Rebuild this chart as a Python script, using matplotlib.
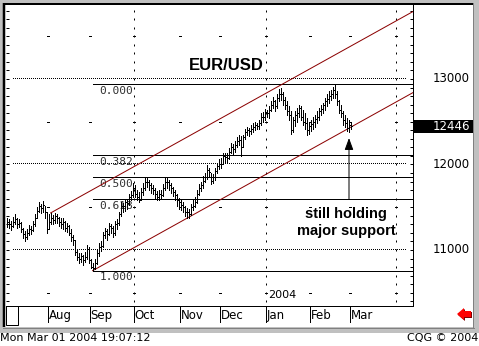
import numpy as np
import pandas as pd
import matplotlib.pyplot as plt
from matplotlib.patches import Rectangle, Polygon
from matplotlib.transforms import blended_transform_factory
from matplotlib.ticker import MultipleLocator

W, H = 479, 346
PX = 0.72  # one pixel in points at 100 dpi

########################### Daily bars (high, low, close) x 10000 ##############################
jul_2003 = [(11370, 11270, 11330), (11360, 11260, 11300), (11340, 11230, 11280), (11390, 11270, 11330),
            (11420, 11300, 11360), (11380, 11260, 11300), (11360, 11270, 11320), (11330, 11210, 11250),
            (11260, 11140, 11190), (11220, 11110, 11150), (11250, 11130, 11200), (11290, 11180, 11240),
            (11280, 11190, 11230), (11340, 11220, 11300), (11420, 11280, 11380), (11500, 11370, 11460),
            (11560, 11440, 11510), (11540, 11430, 11490), (11570, 11450, 11530), (11520, 11380, 11440),
            (11450, 11200, 11250)]
aug_2003 = [(11420, 11250, 11330), (11430, 11300, 11380), (11410, 11300, 11350), (11430, 11320, 11400),
            (11420, 11310, 11370), (11390, 11280, 11330), (11380, 11260, 11300), (11370, 11240, 11330),
            (11340, 11220, 11260), (11320, 11210, 11280), (11290, 11170, 11200), (11240, 11100, 11150),
            (11180, 11060, 11120), (11120, 10940, 10980), (11010, 10880, 10920), (10960, 10850, 10890),
            (10970, 10860, 10930), (10940, 10830, 10880), (10980, 10860, 10920), (11060, 10900, 11010),
            (11030, 10850, 10880)]
sep_2003 = [(10900, 10790, 10800), (10850, 10758, 10790), (10900, 10780, 10850), (11000, 10840, 10960),
            (11080, 10930, 11040), (11100, 10990, 11050), (11210, 11040, 11170), (11260, 11140, 11220),
            (11240, 11120, 11190), (11310, 11170, 11280), (11300, 11200, 11260), (11280, 11150, 11200),
            (11340, 11180, 11300), (11360, 11240, 11310), (11440, 11290, 11420), (11560, 11400, 11520),
            (11550, 11450, 11510), (11600, 11460, 11560), (11590, 11480, 11550), (11660, 11530, 11620),
            (11690, 11580, 11640), (11780, 11620, 11720)]
oct_2003 = [(11760, 11620, 11660), (11700, 11590, 11620), (11680, 11560, 11580), (11720, 11580, 11680),
            (11780, 11640, 11720), (11850, 11700, 11790), (11840, 11740, 11800), (11820, 11700, 11760),
            (11780, 11670, 11720), (11760, 11660, 11700), (11730, 11610, 11650), (11690, 11580, 11620),
            (11700, 11590, 11660), (11700, 11600, 11640), (11770, 11630, 11720), (11840, 11700, 11790),
            (11850, 11730, 11800), (11820, 11700, 11760), (11780, 11670, 11720), (11740, 11630, 11680),
            (11700, 11590, 11640), (11660, 11520, 11590), (11610, 11480, 11560)]
nov_2003 = [(11580, 11470, 11530), (11560, 11440, 11500), (11510, 11400, 11450), (11490, 11380, 11440),
            (11480, 11375, 11420), (11540, 11410, 11500), (11580, 11470, 11520), (11620, 11500, 11560),
            (11700, 11550, 11660), (11770, 11640, 11720), (11800, 11690, 11760), (11860, 11730, 11810),
            (11900, 11790, 11850), (11990, 11830, 11930), (11960, 11860, 11910), (11900, 11770, 11810),
            (11890, 11780, 11850), (11960, 11820, 11920), (12020, 11900, 11980), (12070, 11950, 12010)]
dec_2003 = [(12080, 11960, 12010), (12140, 12000, 12100), (12130, 12030, 12090), (12130, 12020, 12080),
            (12190, 12060, 12150), (12250, 12130, 12200), (12240, 12120, 12180), (12280, 12150, 12230),
            (12320, 12200, 12270), (12340, 12230, 12290), (12330, 12100, 12200), (12350, 12200, 12320),
            (12420, 12300, 12380), (12440, 12340, 12400), (12430, 12330, 12390), (12460, 12360, 12420),
            (12480, 12380, 12440), (12500, 12400, 12460), (12490, 12410, 12450), (12520, 12420, 12480),
            (12600, 12460, 12560), (12610, 12500, 12560), (12650, 12520, 12610)]
jan_2004 = [(12640, 12560, 12600), (12680, 12540, 12640), (12740, 12620, 12700), (12790, 12660, 12740),
            (12760, 12630, 12680), (12820, 12660, 12780), (12880, 12740, 12830), (12900, 12760, 12820),
            (12850, 12700, 12760), (12790, 12650, 12700), (12740, 12580, 12620), (12680, 12520, 12580),
            (12620, 12360, 12400), (12560, 12380, 12520), (12620, 12450, 12580), (12660, 12500, 12600),
            (12700, 12560, 12660), (12680, 12520, 12560), (12640, 12460, 12500), (12600, 12420, 12480),
            (12540, 12350, 12400), (12500, 12360, 12450)]
feb_2004 = [(12520, 12390, 12470), (12560, 12420, 12500), (12580, 12440, 12530), (12620, 12480, 12560),
            (12660, 12520, 12620), (12700, 12580, 12650), (12720, 12600, 12690), (12780, 12640, 12740),
            (12820, 12680, 12770), (12860, 12720, 12800), (12870, 12760, 12830), (12910, 12780, 12870),
            (12938, 12780, 12820), (12860, 12700, 12740), (12760, 12600, 12640), (12700, 12560, 12600),
            (12620, 12460, 12520), (12580, 12440, 12480), (12540, 12390, 12430), (12520, 12380, 12460)]
mar_2004 = [(12500, 12410, 12446)]

bars = jul_2003 + aug_2003 + sep_2003 + oct_2003 + nov_2003 + dec_2003 + jan_2004 + feb_2004 + mar_2004
highs = np.array([b[0] for b in bars])
lows = np.array([b[1] for b in bars])
closes = np.array([b[2] for b in bars])
dates = pd.bdate_range('2003-07-03', periods=len(bars))
idx = np.arange(len(bars))

# channel lines (bar index, price)
support_x = [43, 203.2]
support_y = [10758, 12841]
resist_x = [22, 203.2]
resist_y = [11433, 13789]

fib_ratios = [0.0, 0.382, 0.5, 0.618, 1.0]
fib_labels = ['0.000', '0.382', '0.500', '0.618', '1.000']
fib_start = 43

price_labels = [11000, 12000, 13000]

########################### Figure / window chrome ##############################
fig = plt.figure(figsize=(W / 100, H / 100), dpi=100)
bg = fig.add_axes([0, 0, 1, 1], zorder=-1)
bg.set_xlim(0, W)
bg.set_ylim(H, 0)
bg.axis('off')
bg.add_patch(Rectangle((0, 0), W, 333, facecolor='#c0c0c0', edgecolor='none'))
bg.add_patch(Rectangle((3, 3), 470, 324, facecolor='white', edgecolor='none'))
bg.plot([3, 473], [4, 4], color='black', lw=2 * PX, solid_capstyle='butt')
bg.plot([4.5, 4.5], [3, 327], color='black', lw=2.5 * PX, solid_capstyle='butt')
bg.plot([473.5, 473.5], [3, 328], color='#808080', lw=PX)
bg.plot([3, 474], [328, 328], color='#808080', lw=PX)
# small empty box under the left axis
bg.add_patch(Rectangle((6, 306), 12, 19, facecolor='none', edgecolor='black', lw=PX))
# red scroll arrow
arrow_shape = [(457, 314), (464, 308), (464, 311), (471, 311), (471, 317), (464, 317), (464, 320)]
bg.add_patch(Polygon([(x + 1, y + 1) for x, y in arrow_shape], facecolor='#800000', edgecolor='none'))
bg.add_patch(Polygon(arrow_shape, facecolor='#ff0000', edgecolor='none'))
bg.text(0, 338, 'Mon Mar 01 2004 19:07:12', fontsize=8, ha='left', va='center', family='DejaVu Sans')
bg.text(478, 338, 'CQG \u00a9 2004', fontsize=8, ha='right', va='center', family='DejaVu Sans')

########################### Price chart ##############################
ax = fig.add_axes([6 / W, 1 - 306 / H, 407 / W, 302 / H])
ax.set_facecolor('none')
ax.set_xlim(-0.3, 203.2)
ax.set_ylim(10345, 13877)
for side in ['top', 'left']:
    ax.spines[side].set_visible(False)
for side in ['right', 'bottom']:
    ax.spines[side].set_linewidth(PX)
ax.set_xticks([])
ax.yaxis.set_major_locator(MultipleLocator(100))
ax.tick_params(axis='y', direction='in', length=3 * PX, width=PX, left=True, right=True,
               labelleft=False, labelright=False)

# month boundaries over an extended calendar so the Apr quarter line shows
cal = pd.bdate_range('2003-07-03', '2004-04-30')
month_starts = [i for i in range(1, len(cal)) if cal[i].month != cal[i - 1].month]
for i in month_starts:
    xb = i - 0.5
    if xb > 203:
        continue
    if cal[i].month in (1, 4, 7, 10):
        ax.scatter(np.full(35, xb), np.arange(10400, 13900, 100), marker='|', s=2, lw=PX,
                   color='black', zorder=1)
    for lvl in [10500, 11500, 12500, 13500]:
        ax.plot([xb - 0.5, xb + 0.5], [lvl, lvl], color='black', lw=PX, antialiased=False, zorder=1)

# dotted grid at the round thousands, one pixel on / one off
dot_x = np.arange(3, 199.5, 1.0)
for lvl in price_labels:
    ax.plot(dot_x, np.full(len(dot_x), lvl), ls='none', marker=',', color='black', zorder=1)

# fibonacci retracement of the Sep low to Feb high swing
swing_low, swing_high = lows.min(), highs.max()
for r, lab in zip(fib_ratios, fib_labels):
    lvl = swing_high - r * (swing_high - swing_low)
    ax.plot([fib_start, 203.2], [lvl, lvl], color='black', lw=PX, antialiased=False, zorder=2)
    ax.text(fib_start + 3.5, lvl - 20, lab, family='DejaVu Sans Mono', fontsize=8,
            color='#303030', ha='left', va='top', zorder=2)

ax.plot(support_x, support_y, color='#8b0000', lw=PX, zorder=3)
ax.plot(resist_x, resist_y, color='#8b0000', lw=PX, zorder=3)

ax.vlines(idx, lows, highs, colors='black', lw=PX, antialiased=False, zorder=4)
ax.hlines(closes, idx, idx + 0.6, colors='black', lw=PX, antialiased=False, zorder=4)

ax.text(0.542, 0.798, 'EUR/USD', transform=ax.transAxes, fontsize=12, fontweight='bold',
        family='Liberation Sans', ha='center', va='center')
ax.text(0.835, 0.276, 'still holding\nmajor support', transform=ax.transAxes, fontsize=10.5,
        fontweight='bold', family='Liberation Sans', ha='center', va='center', linespacing=1.3)
ax.annotate('', xy=(171.2, 12310), xytext=(171.2, swing_high - 0.618 * (swing_high - swing_low)),
            arrowprops=dict(arrowstyle='-|>,head_length=0.6,head_width=0.22', color='black',
                            lw=PX, mutation_scale=12, shrinkA=0, shrinkB=0))
ax.text(130.7, 10410, '2004', fontsize=8, family='DejaVu Sans', ha='left', va='bottom')

# price scale on the right
tr = blended_transform_factory(ax.transAxes, ax.transData)
for lvl in price_labels:
    ax.text(1 + 57 / 407, lvl, str(lvl), transform=tr, fontsize=8.5, family='DejaVu Sans',
            ha='right', va='center', clip_on=False)
ax.add_patch(Rectangle((1.0, closes[-1] - 76), 60 / 407, 152, transform=tr, facecolor='black',
                       edgecolor='none', clip_on=False))
ax.text(1 + 57 / 407, closes[-1], str(closes[-1]), transform=tr, fontsize=8.5, family='DejaVu Sans',
        color='white', ha='right', va='center', clip_on=False)

########################### Month strip ##############################
axm = fig.add_axes([6 / W, 1 - 323 / H, 407 / W, 17 / H], sharex=ax)
axm.set_facecolor('none')
axm.set_ylim(0, 1)
axm.axis('off')
for i in month_starts:
    if i >= len(dates):
        break
    axm.plot([i - 0.5, i - 0.5], [0, 1], color='black', lw=PX, antialiased=False)
    axm.text(i, 0.45, cal[i].strftime('%b'), fontsize=8.5, family='DejaVu Sans',
             ha='left', va='center')

fig.savefig('out.png', dpi=100)
